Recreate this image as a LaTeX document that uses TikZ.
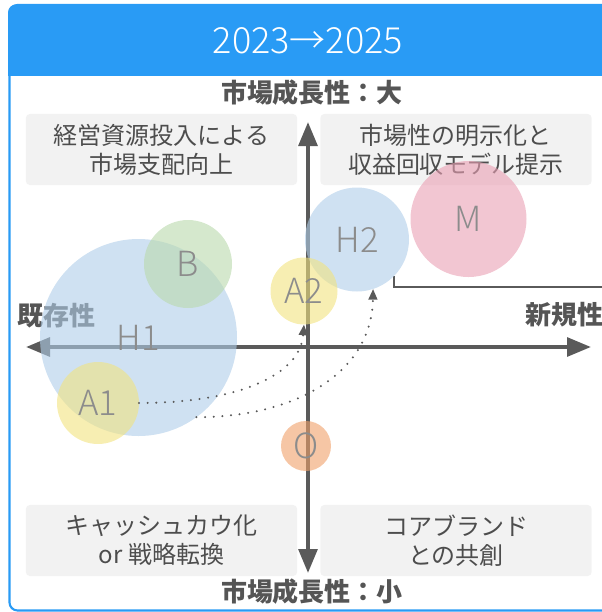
\documentclass[tikz,border=0pt]{standalone}
\usepackage{fontspec}
\setmainfont{Noto Sans CJK JP}
\IfFontExistsTF{Noto Sans CJK JP Light}
  {\newfontfamily\lightfont{Noto Sans CJK JP Light}}
  {\newfontfamily\lightfont{Noto Sans CJK JP}}
\usetikzlibrary{arrows.meta}
\definecolor{hdr}{HTML}{299BF5}
\definecolor{axiscol}{HTML}{5A5A5A}
\definecolor{boldtxt}{HTML}{555555}
\definecolor{boxtxt}{HTML}{4D4D4D}
\definecolor{boxfill}{HTML}{F2F2F2}
\definecolor{lbl}{HTML}{8C8C8C}
\definecolor{cblue}{RGB}{175,205,233}
\definecolor{cgreen}{RGB}{185,217,172}
\definecolor{cyellow}{RGB}{242,227,127}
\definecolor{cpink}{RGB}{234,160,180}
\definecolor{corange}{RGB}{240,160,105}
\tikzset{
  quadbox/.style={fill=boxfill, rounded corners=3pt, minimum width=203.5pt, minimum height=53.3pt,
    inner sep=0pt, align=center, text=boxtxt, font=\fontsize{18}{21.8}\selectfont},
  axlabel/.style={text=boldtxt, inner sep=0pt, font=\fontsize{19.5}{23}\selectfont\bfseries},
  axisline/.style={draw=axiscol, line width=3pt, {Triangle[length=18pt,width=14pt]}-{Triangle[length=18pt,width=14pt]}},
  bubble/.style={circle, inner sep=0pt, outer sep=0pt, fill opacity=0.6, text opacity=1,
    text=lbl, font=\lightfont\fontsize{26}{30}\selectfont},
  moveline/.style={draw=axiscol, line width=1.7pt, line cap=round, dash pattern=on 0pt off 6.5pt,
    -{Triangle[length=8pt,width=6.5pt]}},
}
\begin{document}
\begin{tikzpicture}[x=0.75pt,y=-0.75pt]
\useasboundingbox (0,0) rectangle (602,612);
\clip (0,0) rectangle (602,612);
% frame and header
\draw[hdr, line width=1.6pt, rounded corners=6pt] (9.5,5) rectangle (660,610.5);
\fill[hdr, rounded corners=6pt] (8,4.5) rectangle (660,40);
\fill[hdr] (8,30) rectangle (660,76);
\node[text=white, inner sep=0pt, font=\lightfont\fontsize{27}{32}\selectfont] (title) at (308,41) {2023→2025};
% quadrant boxes
\node[quadbox] (q1) at (161.5,149.5) {経営資源投入による\\市場支配向上};
\node[quadbox] (q2) at (456,149.5) {市場性の明示化と\\収益回収モデル提示};
\node[quadbox] (q3) at (161.5,540.5) {キャッシュカウ化\\or 戦略転換};
\node[quadbox] (q4) at (456,540.5) {コアブランド\\との共創};
% axes
\coordinate (vtop) at (308,122);
\coordinate (vbot) at (308,573);
\coordinate (hleft) at (26,347);
\coordinate (hright) at (591,347);
\draw[axisline] (vbot) -- (vtop);
\draw[axisline] (hleft) -- (hright);
\node[axlabel] (lbltop) at (312,93) {市場成長性：大};
\node[axlabel] (lblbot) at (312,592) {市場成長性：小};
\node[axlabel, anchor=west] (lblleft) at (17,316) {既存性};
\node[axlabel, anchor=west] (lblright) at (525,315) {新規性};
% bracket
\coordinate (br1) at (394,276);
\coordinate (br2) at (394,287);
\coordinate (br3) at (660,287);
\draw[axiscol, line width=1.1pt] (br1) -- (br2) -- (br3);
% bubbles
\node[bubble, fill=cblue, minimum size=147.75pt] (H1) at (138.5,337.5) {H1};
\node[bubble, fill=cgreen, minimum size=66pt] (B) at (188,264) {B};
\node[bubble, fill=cyellow, minimum size=61.5pt] (A1) at (98,403) {A1};
\node[bubble, fill=cblue, minimum size=78pt] (H2) at (357,239.5) {H2};
\node[bubble, fill=cpink, minimum size=87pt] (M) at (468.5,219) {M};
\node[bubble, fill=cyellow, minimum size=50.25pt] (A2) at (304,291) {A2};
\node[bubble, fill=corange, minimum size=37.5pt] (O) at (306,446) {O};
% movement arrows
\draw[moveline] (A1.east) .. controls +(96,0) and +(-4,52) .. (A2.south);
\draw[moveline] (H1.-54) .. controls +(105,0) and +(-1,80) .. (H2.-72);
\end{tikzpicture}
\end{document}
